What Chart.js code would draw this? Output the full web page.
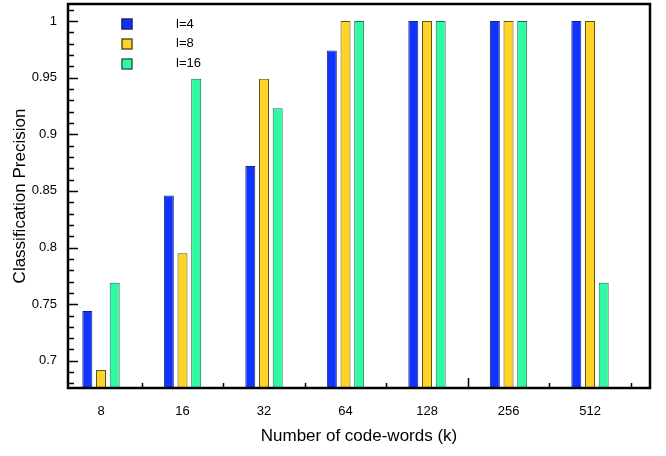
<!DOCTYPE html>
<html>
<head>
<meta charset="utf-8">
<script src="https://cdn.jsdelivr.net/npm/chart.js@4.4.1/dist/chart.umd.min.js"></script>
<style>
  html, body { margin: 0; padding: 0; background: #fff; }
  #wrap { width: 666px; height: 456px; }
</style>
</head>
<body>
<div id="wrap"><canvas id="c" width="666" height="456"></canvas></div>
<script>
// Codebook sizes (k) and classification precision for each window length l
const categories = ['8', '16', '32', '64', '128', '256', '512'];
const seriesLabels = ['l=4', 'l=8', 'l=16'];
const precisionL4  = [0.744, 0.846, 0.872, 0.974, 1, 1, 1];
const precisionL8  = [0.692, 0.795, 0.949, 1, 1, 1, 1];
const precisionL16 = [0.769, 0.949, 0.923, 1, 1, 1, 0.769];
const yTickLabels = [0.7, 0.75, 0.8, 0.85, 0.9, 0.95, 1];

const FONT = '"Liberation Sans", Arial, Helvetica, sans-serif';
const fills   = ['#1034ff', '#ffd426', '#2ffaa4'];
const borders = ['#1c2470', '#5f5220', '#2a6a4e'];

const toPoints = arr => arr.map((v, i) => ({ x: i + 1, y: v }));

// Ticks drawn inward from the frame, plus the frame itself
const framePlugin = {
  id: 'frame',
  afterDatasetsDraw(chart) {
    const { ctx, chartArea: a, scales: { x, y } } = chart;
    ctx.save();
    ctx.strokeStyle = '#000';
    ctx.lineWidth = 1.5;
    // y minor and major ticks
    for (let k = 68; k <= 101; k++) {
      const v = k / 100;
      const major = yTickLabels.some(t => Math.abs(t - v) < 1e-9);
      const py = Math.round(y.getPixelForValue(v)) + 0.5;
      ctx.beginPath();
      ctx.moveTo(a.left, py);
      ctx.lineTo(a.left + (major ? 10 : 6), py);
      ctx.stroke();
    }
    // x ticks between groups
    for (let i = 1; i < categories.length + 1; i++) {
      const px = Math.round(x.getPixelForValue(i + 0.5)) + 0.5;
      ctx.beginPath();
      ctx.moveTo(px, a.bottom);
      ctx.lineTo(px, a.bottom - (i === 5 ? 10 : 5));
      ctx.stroke();
    }
    ctx.lineWidth = 2.5;
    ctx.strokeRect(a.left, a.top, a.right - a.left, a.bottom - a.top);
    ctx.restore();
  }
};

// Legend inside the plot area, box and label spaced apart
const insideLegend = {
  id: 'insideLegend',
  afterDraw(chart) {
    const { ctx } = chart;
    ctx.save();
    ctx.font = '13px ' + FONT;
    ctx.textBaseline = 'middle';
    chart.data.datasets.forEach((ds, i) => {
      const cy = 24 + i * 19.8;
      ctx.fillStyle = ds.backgroundColor;
      ctx.fillRect(122, Math.round(cy - 5), 10, 10);
      ctx.strokeStyle = ds.borderColor;
      ctx.lineWidth = 1.5;
      ctx.strokeRect(122, Math.round(cy - 5), 10, 10);
      ctx.fillStyle = '#000';
      ctx.fillText(ds.label, 176, cy);
    });
    ctx.restore();
  }
};

const datasets = [precisionL4, precisionL8, precisionL16].map((arr, i) => ({
  label: seriesLabels[i],
  data: toPoints(arr),
  backgroundColor: fills[i],
  borderColor: borders[i],
  borderWidth: 1,
  categoryPercentage: 0.504,
  barPercentage: 0.73
}));

new Chart(document.getElementById('c'), {
  type: 'bar',
  data: { datasets },
  plugins: [framePlugin, insideLegend],
  options: {
    responsive: false,
    animation: false,
    devicePixelRatio: 1,
    layout: { padding: { left: 6, right: 16, top: 4, bottom: 5 } },
    plugins: { legend: { display: false }, tooltip: { enabled: false } },
    scales: {
      x: {
        type: 'linear',
        min: 0.595,
        max: 7.736,
        offset: false,
        grid: { display: false, drawTicks: false },
        border: { display: false },
        afterBuildTicks: s => { s.ticks = categories.map((c, i) => ({ value: i + 1 })); },
        ticks: {
          autoSkip: false,
          maxRotation: 0,
          padding: 16,
          color: '#000',
          font: { family: FONT, size: 13 },
          callback: v => categories[Math.round(v) - 1]
        },
        title: {
          display: true,
          text: 'Number of code-words (k)',
          color: '#000',
          font: { family: FONT, size: 17 }
        },
        afterFit: s => { s.height = 63; s.paddingLeft = 0; s.paddingRight = 0; }
      },
      y: {
        min: 0.676,
        max: 1.015,
        grid: { display: false, drawTicks: false },
        border: { display: false },
        afterBuildTicks: s => { s.ticks = yTickLabels.map(v => ({ value: v })); },
        ticks: {
          padding: 11,
          color: '#000',
          font: { family: FONT, size: 13 },
          callback: v => String(+v.toFixed(2))
        },
        title: {
          display: true,
          text: 'Classification Precision',
          color: '#000',
          font: { family: FONT, size: 17 }
        },
        afterFit: s => { s.width = 62; s.paddingTop = 0; s.paddingBottom = 0; }
      }
    }
  }
});
</script>
</body>
</html>
